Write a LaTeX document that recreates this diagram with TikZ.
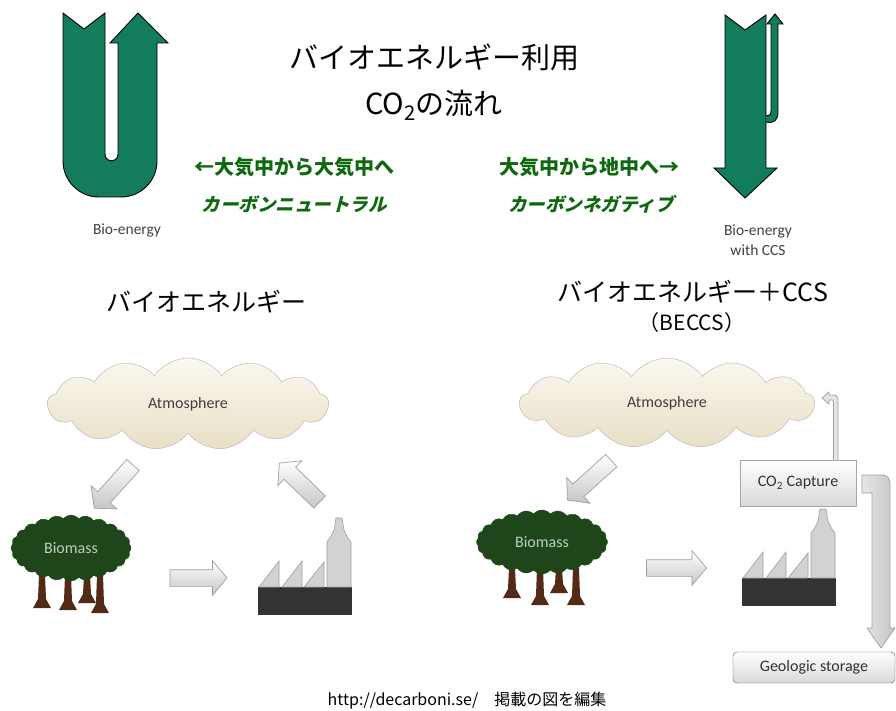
\documentclass[tikz,border=0pt]{standalone}
\usepackage{fontspec}
\setmainfont{Noto Sans CJK JP}
\newfontfamily\calibri{Carlito}
\newfontfamily\jpslant[FakeSlant=0.25]{Noto Sans CJK JP}
\usetikzlibrary{shapes.symbols, shapes.arrows}

\definecolor{biogreen}{RGB}{18,124,92}
\definecolor{labelgreen}{RGB}{14,104,14}
\definecolor{leafgreen}{RGB}{30,70,26}
\definecolor{barkbrown}{RGB}{82,42,22}
\definecolor{cloudtop}{RGB}{251,248,240}
\definecolor{cloudbot}{RGB}{232,223,198}

% one tree trunk: x, top, bottom
\newcommand{\trunk}[3]{%
  \fill[barkbrown] (#1-3,#2) -- (#1+3,#2) -- (#1+4,#3-9) -- (#1+9,#3) -- (#1-9,#3) -- (#1-4,#3-9) -- cycle;}

% factory icon, #1 = top left corner of the dark base
\newcommand{\factory}[1]{%
  \begin{scope}[shift={#1}]
    \fill[black!80] (0,0) rectangle (94,28);
    \draw[plant] (1,0) -- (21,-26) -- (21,0) -- cycle;
    \draw[plant] (24,0) -- (44,-26) -- (44,0) -- cycle;
    \draw[plant] (46,0) -- (66,-25) -- (66,0) -- cycle;
    \draw[plant] (69,0) -- (69,-45) .. controls (73,-50) and (77,-56) .. (77,-64) -- (78,-69)
      -- (84,-69) -- (85,-64) .. controls (85,-56) and (89,-50) .. (93,-45) -- (93,0) -- cycle;
  \end{scope}}

\begin{document}
\begin{tikzpicture}[x=1pt, y=-1pt,
    plant/.style={fill=gray!35, draw=gray!75, line width=0.6pt},
    greenlabel/.style={text=labelgreen, font=\bfseries\fontsize{20}{24}\selectfont},
    greenslant/.style={text=labelgreen, font=\jpslant\bfseries\fontsize{18.5}{22}\selectfont},
    heading/.style={font=\fontsize{25}{30}\selectfont},
    small/.style={font=\calibri\fontsize{15.5}{20}\selectfont, text=black!75, align=center},
    sky/.style={cloud, cloud puffs=13, cloud puff arc=110, cloud ignores aspect, draw=gray!60,
      top color=cloudtop, bottom color=cloudbot, font=\calibri\fontsize{16}{16}\selectfont, text=black!75},
    canopy/.style={cloud, cloud puffs=24, cloud puff arc=100, cloud ignores aspect, fill=leafgreen,
      draw=leafgreen, text=green!15!gray!45, font=\calibri\fontsize{16}{16}\selectfont},
    flow/.style={single arrow, draw=gray!75, line width=0.7pt, top color=white, bottom color=gray!45,
      inner sep=8pt, single arrow head extend=9pt, single arrow tip angle=100},
    boxed/.style={rectangle, draw=gray!70, top color=white, bottom color=gray!30,
      font=\calibri\fontsize{16}{16}\selectfont, text=black!80},
]
\useasboundingbox (0,0) rectangle (896,711);

% title
\node[font=\fontsize{29}{34}\selectfont] (title) at (434,57) {バイオエネルギー利用};
\node[font=\fontsize{29}{34}\selectfont] (title2) at (434,105) {CO\textsubscript{2}の流れ};

% bio-energy: U shaped flow
\draw[fill=biogreen, line width=0.9pt] (63,13) -- (84,29) -- (105,13) -- (105,154)
  .. controls (105,163) and (118,163) .. (118,154) -- (118,43) -- (110,43) -- (138,13)
  -- (168,43) -- (157,43) -- (157,100) [rounded corners=36pt] -- (157,197) -- (63,197)
  -- (63,100) [sharp corners] -- cycle;
\node[small] (bio) at (127,231) {Bio-energy};

% bio-energy with CCS: down flow with small return
\draw[fill=biogreen, line width=0.9pt] (725,15) -- (745,30) -- (766,15) -- (766,168)
  -- (777,168) -- (745,198) -- (714,168) -- (725,168) -- cycle;
\draw[fill=biogreen, line width=0.9pt] (766,122) .. controls (774,124) and (778,120) .. (778,112)
  -- (778,24) -- (783,24) -- (775,14) -- (767,24) -- (771,24) -- (771,111)
  .. controls (771,115) and (769,116) .. (766,116);
\node[small] (bioccs) at (758,240) {Bio-energy\\with CCS};

% green captions
\node[greenlabel] (neutral) at (294,167) {←大気中から大気中へ};
\node[greenslant] (neutraltxt) at (294,204) {カーボンニュートラル};
\node[greenlabel] (negative) at (589,167) {大気中から地中へ→};
\node[greenslant] (negativetxt) at (591,204) {カーボンネガティブ};

% headings
\node[heading] (lefthead) at (206,302) {バイオエネルギー};
\node[heading] (righthead) at (693,292) {バイオエネルギー＋CCS};
\node[font=\fontsize{21}{26}\selectfont] (rightsub) at (692,323) {（BECCS）};

% bio-energy cycle (left)
\node[sky, minimum width=281pt, minimum height=92pt] (atm1) at (188,404) {Atmosphere};
\trunk{42}{575}{608}
\trunk{68}{575}{610}
\trunk{87}{575}{603}
\trunk{100}{575}{613}
\node[canopy, minimum width=120pt, minimum height=66pt] (bm1) at (71,548) {Biomass};
\factory{(258,587)}
\node[flow, minimum height=58pt, rotate=228] (f1) at (116,484) {};
\node[flow, minimum height=57pt] (f2) at (195,578) {};
\node[flow, minimum height=56pt, rotate=136] (f3) at (302,485) {};

% BECCS (right)
\node[sky, minimum width=295pt, minimum height=90pt] (atm2) at (667,403) {Atmosphere};
\trunk{512}{568}{598}
\trunk{540}{568}{605}
\trunk{559}{568}{593}
\trunk{576}{568}{605}
\node[canopy, minimum width=131pt, minimum height=64pt] (bm2) at (542,542) {Biomass};
\factory{(742,578)}
\node[flow, minimum height=59pt, rotate=222] (f4) at (592,478) {};
\node[flow, minimum height=60pt] (f5) at (673,568) {};

\node[boxed, minimum width=116pt, minimum height=46pt] (capture) at (798,483) {CO\textsubscript{2} Capture};
\node[boxed, rounded corners=4pt, draw=black!65, minimum width=162pt, minimum height=31pt] (storage) at (814,667.5) {Geologic storage};

% capture -> storage
\draw[draw=gray!75, line width=0.7pt, left color=gray!20, right color=gray!45] (862,475) -- (882,475)
  .. controls (887,475) and (890,478) .. (890,484) -- (890,628) -- (895,628) -- (881,648)
  -- (867,628) -- (872,628) -- (872,493) -- (862,493) -- cycle;
% capture -> atmosphere (small leak)
\draw[draw=gray!75, line width=0.7pt, fill=gray!20] (838,460) -- (838,400) .. controls (838,396) and (836,395) .. (832,395)
  -- (829,395) -- (829,392) -- (822,398) -- (829,404) -- (829,400) -- (832,400)
  .. controls (833,400) and (833.5,401) .. (833.5,403) -- (833.5,460);

% source
\node[font=\fontsize{16}{18}\selectfont] (src) at (467,701) {http://decarboni.se/\hspace{1em}掲載の図を編集};
\end{tikzpicture}
\end{document}
